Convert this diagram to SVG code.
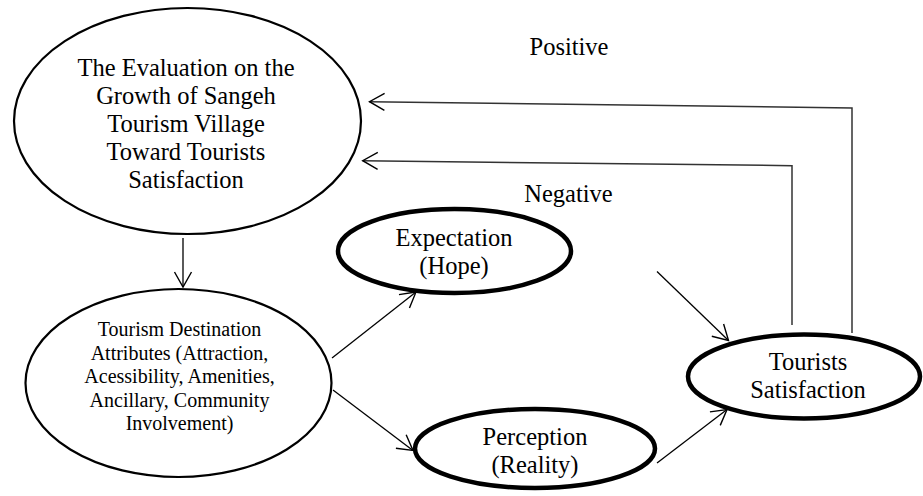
<svg xmlns="http://www.w3.org/2000/svg" width="923" height="496" viewBox="0 0 923 496">
<style>
text{fill:#000;text-anchor:middle}
.t24{font-size:24.5px}
.t20{font-size:20px}
.thin{fill:#fff;stroke:#000;stroke-width:2.2}
.thick{fill:#fff;stroke:#000;stroke-width:4.5}
.c{fill:none;stroke:#000;stroke-width:1.3}
.fb{fill:none;stroke:#333;stroke-width:1.5}
</style>
<defs>
<marker id="arr" markerUnits="userSpaceOnUse" markerWidth="24" markerHeight="24" viewBox="-20 -12 24 24" refX="0" refY="0" orient="auto">
<path d="M-15,-8.5 L0,0 L-15,8.5" fill="none" stroke="#000" stroke-width="1.4"/>
</marker>
</defs>
<g id="connectors">
<line class="c" x1="183" y1="238" x2="183" y2="287" marker-end="url(#arr)"/>
<line class="c" x1="332" y1="358" x2="416" y2="292" marker-end="url(#arr)"/>
<line class="c" x1="333" y1="390" x2="413" y2="450.5" marker-end="url(#arr)"/>
<line class="c" x1="657" y1="271.5" x2="728.5" y2="340.5" marker-end="url(#arr)"/>
<line class="c" x1="657" y1="463" x2="727" y2="409.5" marker-end="url(#arr)"/>
<polyline class="fb" points="852,333 852,108 369.5,101.7" marker-end="url(#arr)"/>
<polyline class="fb" points="792,325 792,165.7 362.7,160.7" marker-end="url(#arr)"/>
</g>
<g font-family="'Liberation Serif', 'Times New Roman', 'DejaVu Serif', serif">
<g id="label-positive"><text class="t24" x="569" y="55">Positive</text></g>
<g id="label-negative"><text class="t24" x="568.5" y="202">Negative</text></g>
<g id="evaluation">
<ellipse class="thin" cx="187.5" cy="121" rx="173.5" ry="113"/>
<text class="t24" x="186" y="76">The Evaluation on the</text>
<text class="t24" x="186" y="104">Growth of Sangeh</text>
<text class="t24" x="186" y="132">Tourism Village</text>
<text class="t24" x="186" y="160">Toward Tourists</text>
<text class="t24" x="186" y="188">Satisfaction</text>
</g>
<g id="attributes">
<ellipse class="thin" cx="178.5" cy="383" rx="153" ry="94"/>
<text class="t20" x="179.5" y="336">Tourism Destination</text>
<text class="t20" x="179.5" y="359.5">Attributes (Attraction,</text>
<text class="t20" x="179.5" y="383">Acessibility, Amenities,</text>
<text class="t20" x="179.5" y="406.5">Ancillary, Community</text>
<text class="t20" x="179.5" y="430">Involvement)</text>
</g>
<g id="expectation">
<ellipse class="thick" cx="454.5" cy="251" rx="116.5" ry="42"/>
<text class="t24" x="454" y="246">Expectation</text>
<text class="t24" x="454" y="274">(Hope)</text>
</g>
<g id="perception">
<ellipse class="thick" cx="535" cy="448.5" rx="120" ry="39.5"/>
<text class="t24" x="535" y="445">Perception</text>
<text class="t24" x="535" y="473">(Reality)</text>
</g>
<g id="satisfaction">
<ellipse class="thick" cx="804" cy="376.5" rx="116" ry="42"/>
<text class="t24" x="808" y="370">Tourists</text>
<text class="t24" x="808" y="398">Satisfaction</text>
</g>
</g>
</svg>
